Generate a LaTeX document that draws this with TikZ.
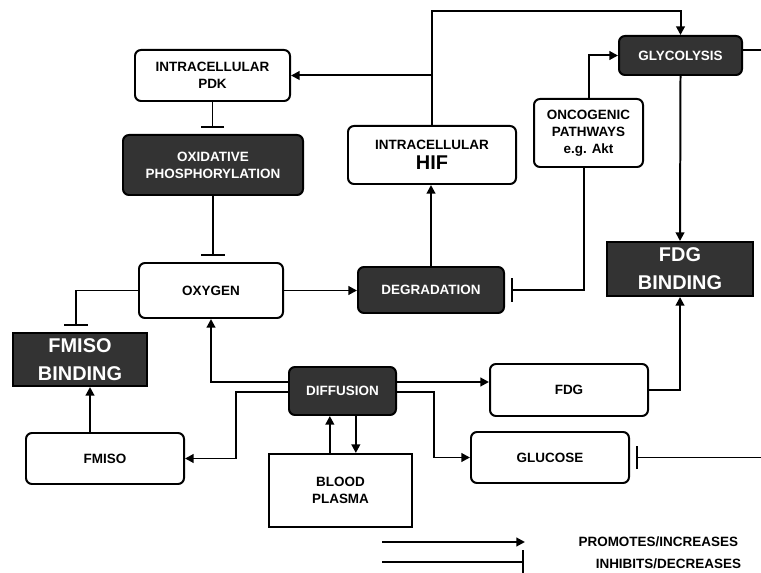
\documentclass[tikz,border=0pt]{standalone}
\usepackage{fontspec}
\setmainfont{Liberation Sans}
\usetikzlibrary{arrows.meta}

\begin{document}
\begin{tikzpicture}[x=0.03cm, y=-0.03cm, line width=1.7pt,
    box/.style={draw, rounded corners=1.8mm, align=center, inner sep=0pt,
        font=\fontsize{11.5}{14.5}\selectfont\bfseries},
    darkbox/.style={box, fill=boxdark, text=white},
    bindbox/.style={draw, fill=boxdark, text=white, align=center, inner sep=0pt,
        font=\fontsize{17}{24}\selectfont\bfseries},
    keytext/.style={anchor=base east, inner sep=0pt, font=\fontsize{11.5}{14.5}\selectfont\bfseries},
    promote/.style={-{Triangle[length=2.6mm,width=2.6mm]}},
    inhibit/.style={-{Bar[width=7mm]}, shorten >=1.8mm}]
    \definecolor{boxdark}{RGB}{51,51,51}

    \useasboundingbox (0,0) rectangle (761,573);

    \node[box, minimum width=4.65cm, minimum height=1.53cm] (pdk) at (212.5,75.5) {INTRACELLULAR\\PDK};
    \node[darkbox, minimum width=5.4cm, minimum height=1.8cm] (oxphos) at (213,165) {OXIDATIVE\\PHOSPHORYLATION};
    \node[box, minimum width=5.04cm, minimum height=1.74cm] (hif) at (432,155) {INTRACELLULAR\\[3pt]{\fontsize{17}{20}\selectfont HIF}};
    \node[box, minimum width=3.27cm, minimum height=2.04cm] (onco) at (588.5,133) {ONCOGENIC\\PATHWAYS\\e.g. Akt};
    \node[darkbox, minimum width=3.69cm, minimum height=1.17cm] (glyco) at (680.5,55.5) {GLYCOLYSIS};
    \node[box, minimum width=4.32cm, minimum height=1.65cm] (oxygen) at (211,290.5) {OXYGEN};
    \node[darkbox, minimum width=4.38cm, minimum height=1.38cm] (degr) at (431,290) {DEGRADATION};
    \node[bindbox, minimum width=4.38cm, minimum height=1.62cm] (fdgbind) at (680,269) {FDG\\BINDING};
    \node[bindbox, minimum width=4.02cm, minimum height=1.59cm] (fmisobind) at (80,359.5) {FMISO\\BINDING};
    \node[box, minimum width=4.74cm, minimum height=1.53cm] (fmiso) at (105,458.5) {FMISO};
    \node[darkbox, minimum width=3.21cm, minimum height=1.44cm] (diff) at (342.5,391) {DIFFUSION};
    \node[box, minimum width=4.74cm, minimum height=1.56cm] (fdg) at (569,390) {FDG};
    \node[box, minimum width=4.74cm, minimum height=1.53cm] (glucose) at (550,457.5) {GLUCOSE};
    \node[box, sharp corners, minimum width=4.29cm, minimum height=2.19cm] (plasma) at (340.5,490.5) {BLOOD\\PLASMA};

    \coordinate (top) at (0,11);
    \coordinate (gout) at (761,50);
    \coordinate (gin) at (761,457.5);

    \draw[promote] (hif.north) -- (hif.north |- top) -| (glyco.north);
    \draw[promote] (hif.north |- pdk.east) -- (pdk.east);
    \draw[inhibit] (pdk.south) -- (pdk.south |- oxphos.north);
    \draw[inhibit] (oxphos.south) -- (oxphos.south |- oxygen.north);
    \draw[promote] (oxygen.east) -- (oxygen.east -| degr.west);
    \draw[promote] (degr.north) -- (degr.north |- hif.south);
    \draw[inhibit] ([xshift=-0.15cm]onco.south) |- (degr.east);
    \draw[promote] (onco.north) |- (glyco.west);
    \draw[promote] (glyco.south) -- (fdgbind.north);
    \draw (glyco.east |- gout) -- (gout);
    \draw[inhibit] (gin) -- (glucose.east);
    \draw[inhibit] (oxygen.west) -| ([xshift=-0.12cm]fmisobind.north);
    \draw[promote] ([xshift=-0.45cm]fmiso.north) -- ([xshift=-0.45cm]fmiso.north |- fmisobind.south);
    \draw[promote] ([yshift=0.27cm]diff.west) -| (oxygen.south);
    \draw[promote] ([yshift=-0.03cm]diff.west) -- ++(-1.56cm,0) |- (fmiso.east);
    \draw[promote] ([yshift=0.27cm]diff.east) -- ([yshift=0.27cm]diff.east -| fdg.west);
    \draw[promote] ([yshift=-0.03cm]diff.east) -- ++(1.11cm,0) |- (glucose.west);
    \draw[promote] (fdg.east) -| (fdgbind.south);
    \draw[promote] ([xshift=-0.32cm]plasma.north) -- ([xshift=-0.32cm]plasma.north |- diff.south);
    \draw[promote] ([xshift=0.4cm]diff.south) -- ([xshift=0.4cm]diff.south |- plasma.north);

    \coordinate (promA) at (382,542);
    \coordinate (promB) at (525,542);
    \coordinate (inhA) at (382,562);
    \coordinate (inhB) at (524,562);
    \draw[promote] (promA) -- (promB);
    \draw[-{Bar[width=7mm]}] (inhA) -- (inhB);
    \node[keytext] (promtxt) at (739,546) {PROMOTES/INCREASES};
    \node[keytext] (inhtxt) at (742,568) {INHIBITS/DECREASES};
\end{tikzpicture}
\end{document}
